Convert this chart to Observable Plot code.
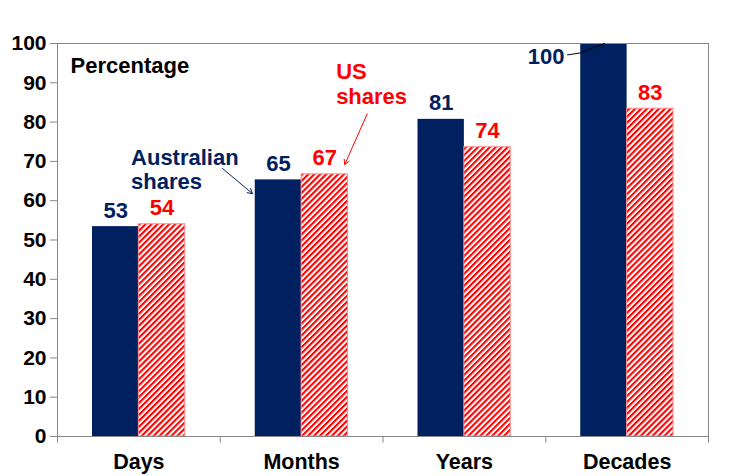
<!DOCTYPE html>
<html>
<head>
<meta charset="utf-8">
<script src="https://cdn.jsdelivr.net/npm/d3@7"></script>
<script src="https://cdn.jsdelivr.net/npm/@observablehq/plot@0.6"></script>
<style>
  html, body { margin: 0; padding: 0; background: white; }
  #chart svg { display: block; }
</style>
</head>
<body>
<div id="chart"></div>
<script>
// ---- data ----
const categories = ["Days", "Months", "Years", "Decades"];
const australian = [53.4, 65.3, 80.7, 100];
const us = [54.0, 66.7, 73.6, 83.4];
const yTicks = [0, 10, 20, 30, 40, 50, 60, 70, 80, 90, 100];

const NAVY = "#002060";
const RED = "#ff0000";
const FONT = "Liberation Sans, Arial, sans-serif";

const rowsAU = categories.map((c, i) => ({i, category: c, value: australian[i]}));
const rowsUS = categories.map((c, i) => ({i, category: c, value: us[i]}));

// annotation layout (in data units of the x/y scales)
const auNote = [{x: 0.452, y: 63.1, text: "Australian\nshares"}];
const usNote = [{x: 1.712, y: 84.5, text: "US\nshares"}];
const auArrow = [{x1: 1.014, y1: 68.2, x2: 1.198, y2: 61.8}];
const usArrow = [{x1: 1.903, y1: 82.1, x2: 1.765, y2: 69.2}];
const leader = [{x: 3.134, y: 97.1}, {x: 3.213, y: 97.6}, {x: 3.361, y: 100}];

const chart = Plot.plot({
  width: 731,
  height: 476,
  marginLeft: 57,
  marginRight: 23,
  marginTop: 43,
  marginBottom: 40,
  style: {fontFamily: FONT, background: "white", color: "black"},
  x: {domain: [0, categories.length]},
  y: {domain: [0, 100]},
  marks: [
    Plot.rectY(rowsAU, {x1: d => d.i + 0.215, x2: d => d.i + 0.5, y: "value", fill: NAVY}),
    Plot.rectY(rowsUS, {x1: d => d.i + 0.5, x2: d => d.i + 0.785, y: "value", fill: "url(#hatch)", stroke: "#ff8a8a", strokeWidth: 1}),
    Plot.frame({stroke: "#888"}),
    Plot.ruleX(d3.range(categories.length + 1), {y1: 0, y2: -1.7, stroke: "#888"}),
    Plot.axisY({ticks: yTicks, tickSize: 7, tickPadding: 4, stroke: "#888", fill: "black",
      fontSize: 21, fontWeight: "bold", label: null}),
    Plot.axisX({ticks: categories.map((c, i) => i + 0.5), tickFormat: v => categories[Math.floor(v)],
      tickSize: 0, tickPadding: 17, fill: "black", fontSize: 21.5, fontWeight: "bold", label: null}),
    // value labels
    Plot.text(rowsAU.filter(d => d.value < 100), {x: d => d.i + 0.3575, y: "value", text: d => String(Math.round(d.value)),
      dy: -9, lineAnchor: "bottom", fill: NAVY, fontSize: 22, fontWeight: "bold"}),
    Plot.text(rowsUS, {x: d => d.i + 0.6425, y: "value", text: d => String(Math.round(d.value)),
      dy: -9, lineAnchor: "bottom", fill: RED, fontSize: 22, fontWeight: "bold"}),
    Plot.text(rowsAU.filter(d => d.value >= 100), {x: 3.115, y: 94.8, text: d => String(Math.round(d.value)),
      textAnchor: "end", lineAnchor: "bottom", fill: NAVY, fontSize: 22, fontWeight: "bold"}),
    Plot.line(leader, {x: "x", y: "y", stroke: "black", strokeWidth: 1}),
    // annotations
    Plot.text(["Percentage"], {x: 0.08, y: 92.5, text: d => d, textAnchor: "start", lineAnchor: "bottom",
      fill: "black", fontSize: 22, fontWeight: "bold"}),
    Plot.text(auNote, {x: "x", y: "y", text: "text", textAnchor: "start", lineAnchor: "bottom", lineHeight: 1.09,
      fill: NAVY, fontSize: 22, fontWeight: "bold"}),
    Plot.text(usNote, {x: "x", y: "y", text: "text", textAnchor: "start", lineAnchor: "bottom", lineHeight: 1.17,
      fill: RED, fontSize: 22, fontWeight: "bold"}),
    Plot.arrow(auArrow, {x1: "x1", y1: "y1", x2: "x2", y2: "y2", stroke: NAVY, strokeWidth: 1, headLength: 8, bend: 0}),
    Plot.arrow(usArrow, {x1: "x1", y1: "y1", x2: "x2", y2: "y2", stroke: RED, strokeWidth: 1, headLength: 8, bend: 0})
  ]
});

// hatch pattern definition
const P = 4.2;
const defs = d3.select(chart).insert("defs", ":first-child");
const pat = defs.append("pattern")
  .attr("id", "hatch")
  .attr("patternUnits", "userSpaceOnUse")
  .attr("width", P)
  .attr("height", P)
  .attr("patternTransform", "rotate(45)");
pat.append("rect").attr("width", P).attr("height", P).attr("fill", "white");
pat.append("rect").attr("width", 2.1).attr("height", P).attr("fill", RED);

document.getElementById("chart").appendChild(chart);
</script>
</body>
</html>
